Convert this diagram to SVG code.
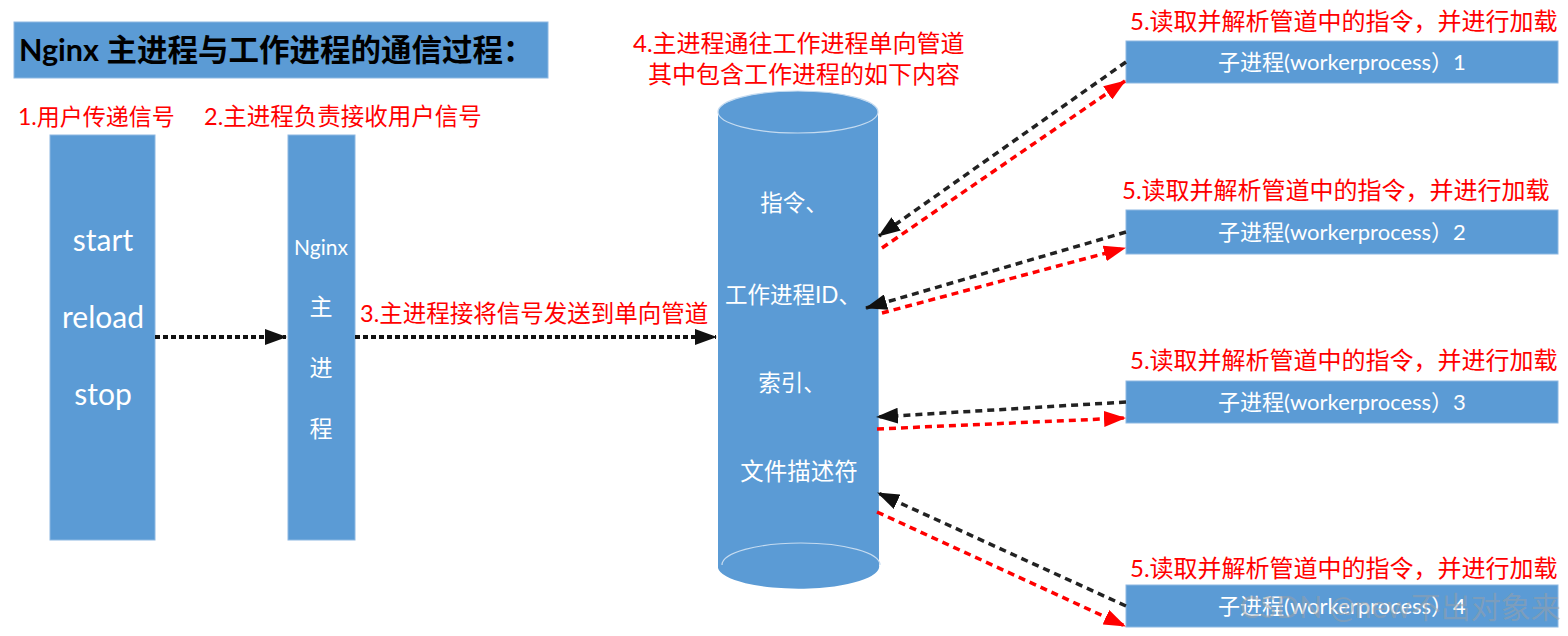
<svg xmlns="http://www.w3.org/2000/svg" width="1568" height="636" viewBox="0 0 1568 636">
<style>
.box{fill:#5B9BD5;stroke:#8DB8E2;stroke-width:1}
.wt{fill:#fff;font-family:Lato,"Noto Sans CJK SC",sans-serif;text-anchor:middle}
.rt{fill:#FF0000;font-family:Lato,"Noto Sans CJK SC",sans-serif}
.blk{fill:none;stroke:#222;stroke-width:3.5;stroke-dasharray:7 5}
.red{fill:none;stroke:#FF0000;stroke-width:3.5;stroke-dasharray:7 5}
.dot{fill:none;stroke:#111;stroke-width:4;stroke-dasharray:5 3}
</style>
<defs>
<marker id="ab" markerUnits="userSpaceOnUse" markerWidth="22" markerHeight="16" viewBox="0 0 22 16" refX="21" refY="8" orient="auto"><path d="M0,0 L22,8 L0,16 z" fill="#111"/></marker>
<marker id="ar" markerUnits="userSpaceOnUse" markerWidth="22" markerHeight="16" viewBox="0 0 22 16" refX="21" refY="8" orient="auto"><path d="M0,0 L22,8 L0,16 z" fill="#FF0000"/></marker>
</defs>
<rect width="1568" height="636" fill="#fff"/>
<g id="title">
<rect class="box" x="14" y="22" width="534" height="56"/>
<text x="19" y="61" font-family="Lato,'Noto Sans CJK SC',sans-serif" font-weight="bold" font-size="30.5" fill="#000">Nginx 主进程与工作进程的通信过程：</text>
</g>
<g id="label1"><text class="rt" x="18" y="125" font-size="23">1.用户传递信号</text></g>
<g id="label2"><text class="rt" x="204" y="125" font-size="23.5">2.主进程负责接收用户信号</text></g>
<g id="signals">
<rect class="box" x="50" y="135" width="105" height="405"/>
<text class="wt" x="103" y="251" font-size="30">start</text>
<text class="wt" x="103" y="328" font-size="30">reload</text>
<text class="wt" x="103" y="405" font-size="30">stop</text>
</g>
<g id="master">
<rect class="box" x="288" y="135" width="67" height="405"/>
<text class="wt" x="321" y="255" font-size="21">Nginx</text>
<text class="wt" x="321" y="315" font-size="23">主</text>
<text class="wt" x="321" y="376" font-size="23">进</text>
<text class="wt" x="321" y="437" font-size="23">程</text>
</g>
<g id="label3"><text class="rt" x="360" y="322" font-size="23.5">3.主进程接将信号发送到单向管道</text></g>
<g id="label4">
<text class="rt" x="633" y="52" font-size="24">4.主进程通往工作进程单向管道</text>
<text class="rt" x="648" y="83" font-size="24">其中包含工作进程的如下内容</text>
</g>
<g id="pipe">
<path d="M718,112 L718,568 A80,22 0 0 0 879,565 L878,112 z" fill="#5B9BD5"/>
<ellipse cx="798" cy="112" rx="80" ry="21" fill="#5B9BD5" stroke="#C5DBF0" stroke-width="1.2"/>
<path d="M722,565 A79,22 0 0 1 880,565" fill="none" stroke="#C5DBF0" stroke-width="1.2"/>
<text class="wt" x="794" y="211" font-size="22.5">指令、</text>
<text class="wt" x="793" y="303" font-size="22.5">工作进程ID、</text>
<text class="wt" x="792" y="391" font-size="22.5">索引、</text>
<text class="wt" x="799" y="480" font-size="23.5">文件描述符</text>
</g>
<g id="worker1">
<text class="rt" x="1130" y="30" font-size="24">5.读取并解析管道中的指令，并进行加载</text>
<rect class="box" x="1126" y="41" width="432" height="42"/>
<text class="wt" x="1342" y="70" font-size="22">子进程(workerprocess）1</text>
</g>
<g id="worker2">
<text class="rt" x="1122" y="199" font-size="24">5.读取并解析管道中的指令，并进行加载</text>
<rect class="box" x="1126" y="210" width="432" height="44"/>
<text class="wt" x="1342" y="240" font-size="22">子进程(workerprocess）2</text>
</g>
<g id="worker3">
<text class="rt" x="1130" y="369" font-size="24">5.读取并解析管道中的指令，并进行加载</text>
<rect class="box" x="1126" y="381" width="432" height="42"/>
<text class="wt" x="1342" y="410" font-size="22">子进程(workerprocess）3</text>
</g>
<g id="worker4">
<text class="rt" x="1130" y="577" font-size="24">5.读取并解析管道中的指令，并进行加载</text>
<rect class="box" x="1126" y="585" width="432" height="42"/>
<text class="wt" x="1342" y="614" font-size="22">子进程(workerprocess）4</text>
</g>
<g id="connectors">
<line class="dot" x1="155" y1="337" x2="286" y2="337" marker-end="url(#ab)"/>
<line class="dot" x1="355" y1="337" x2="716" y2="337" marker-end="url(#ab)"/>
<line class="blk" x1="1126" y1="62" x2="879" y2="236" marker-end="url(#ab)"/>
<line class="red" x1="882" y1="248" x2="1125" y2="81" marker-end="url(#ar)"/>
<line class="blk" x1="1126" y1="232" x2="866" y2="308" marker-end="url(#ab)"/>
<line class="red" x1="882" y1="313" x2="1125" y2="248" marker-end="url(#ar)"/>
<line class="blk" x1="1126" y1="402" x2="877" y2="417" marker-end="url(#ab)"/>
<line class="red" x1="877" y1="429" x2="1125" y2="418" marker-end="url(#ar)"/>
<line class="blk" x1="1126" y1="606" x2="878" y2="493" marker-end="url(#ab)"/>
<line class="red" x1="877" y1="512" x2="1125" y2="626" marker-end="url(#ar)"/>
</g>
<text x="1240" y="618" font-family="Lato,'Noto Sans CJK SC',sans-serif" font-size="30" fill="#9aa0a6" fill-opacity="0.55">CSDN @new不出对象来</text>
</svg>
